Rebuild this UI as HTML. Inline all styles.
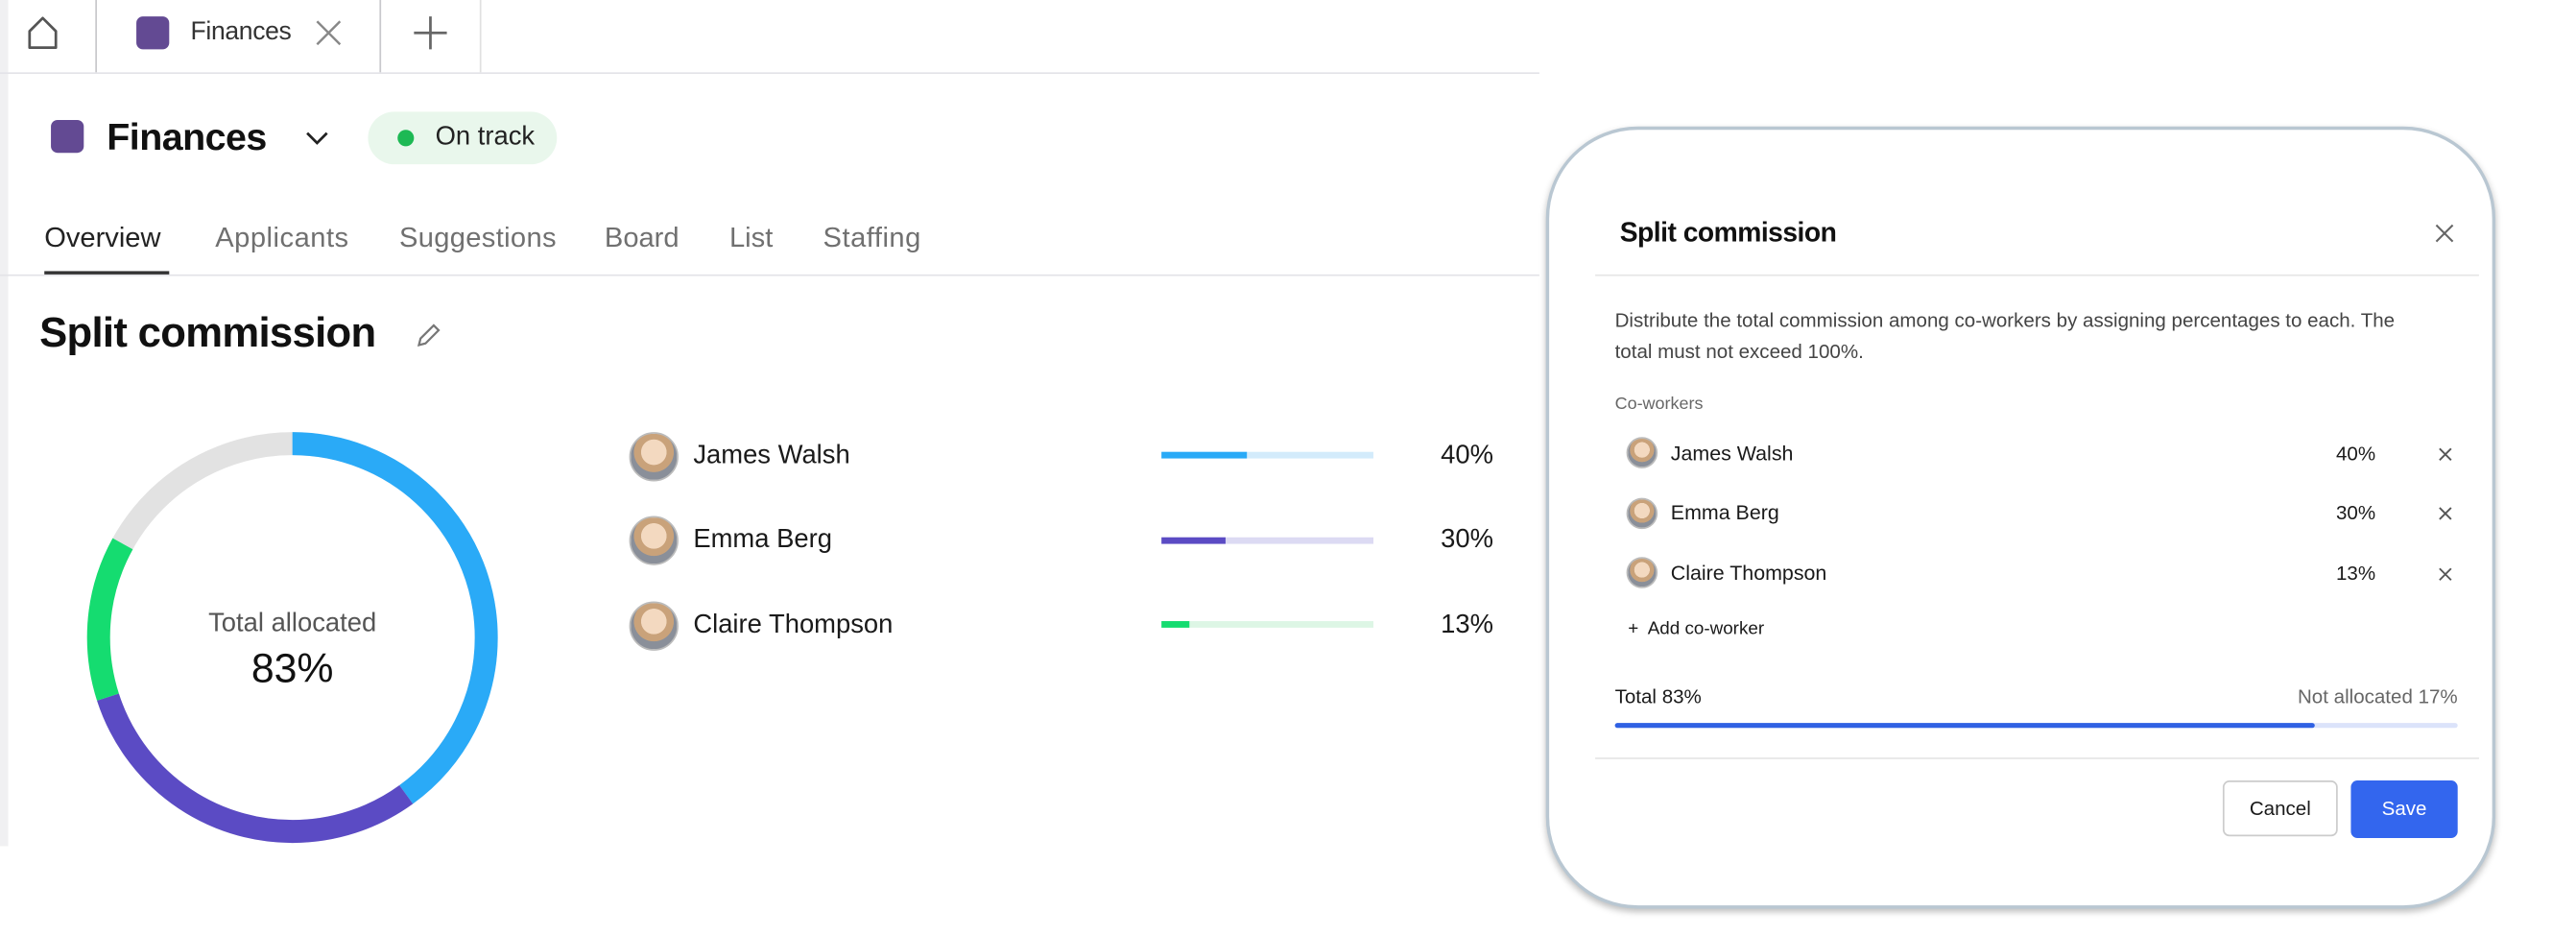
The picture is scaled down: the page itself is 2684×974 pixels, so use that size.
<!DOCTYPE html>
<html><head><meta charset="utf-8">
<style>
html,body{margin:0;padding:0;background:#fff;}
body{width:2684px;height:974px;overflow:hidden;position:relative;}
#s{position:absolute;left:0;top:0;width:1568px;height:569px;transform:scale(1.7117);transform-origin:0 0;font-family:"Liberation Sans","DejaVu Sans",sans-serif;color:#1a1a1a;}
.a{position:absolute;white-space:nowrap;}
.av{position:absolute;border-radius:50%;background:radial-gradient(circle at 50% 40%,#f3d9c0 0 35%,#c9a27a 36% 55%,#8a8f99 56%);border:1px solid #bbb;box-sizing:border-box;}
</style></head><body><div id="s">
<div class="a" style="left:0;top:0;width:5px;height:515px;background:#f0f0f2"></div>
<div class="a" style="left:0;top:44px;width:937px;height:1px;background:#e3e3e8"></div>
<div class="a" style="left:58px;top:0;width:1px;height:44px;background:#c8c8cc"></div>
<div class="a" style="left:231px;top:0;width:1px;height:44px;background:#c8c8cc"></div>
<div class="a" style="left:292px;top:0;width:1px;height:44px;background:#e0e0e0"></div>
<svg class="a" style="left:14px;top:8px" width="24" height="24" viewBox="0 0 24 24"><path d="M4 11 L12 3 L20 11 V21 H4 Z" fill="none" stroke="#555" stroke-width="1.6" stroke-linejoin="round"/></svg>
<div class="a" style="left:83px;top:10px;width:20px;height:20px;border-radius:4px;background:#634a93"></div>
<div class="a" style="left:116px;top:11px;font-size:15.5px;color:#333;letter-spacing:-0.2px">Finances</div>
<svg class="a" style="left:191px;top:11px" width="18" height="18"><path d="M2 2L16 16M16 2L2 16" stroke="#888" stroke-width="1.4"/></svg>
<svg class="a" style="left:251px;top:9px" width="22" height="22"><path d="M11 1V21M1 11H21" stroke="#666" stroke-width="1.6"/></svg>
<div class="a" style="left:31px;top:73px;width:20px;height:20px;border-radius:4px;background:#634a93"></div>
<div class="a" style="left:65px;top:70px;font-size:23px;font-weight:bold;color:#111;letter-spacing:-0.3px">Finances</div>
<svg class="a" style="left:185px;top:78px" width="16" height="12"><path d="M2 3L8 9L14 3" fill="none" stroke="#222" stroke-width="1.6"/></svg>
<div class="a" style="left:224px;top:68px;width:115px;height:32px;border-radius:16px;background:#e9f7ec"></div>
<div class="a" style="left:242px;top:79px;width:10px;height:10px;border-radius:50%;background:#1db954"></div>
<div class="a" style="left:265px;top:75px;font-size:16px;color:#222">On track</div>
<div class="a" style="left:27px;top:135px;font-size:17px;color:#222">Overview</div>
<div class="a" style="left:131px;top:135px;font-size:17px;color:#707070;letter-spacing:0.3px">Applicants</div>
<div class="a" style="left:243px;top:135px;font-size:17px;color:#707070;letter-spacing:0.2px">Suggestions</div>
<div class="a" style="left:368px;top:135px;font-size:17px;color:#707070">Board</div>
<div class="a" style="left:444px;top:135px;font-size:17px;color:#707070">List</div>
<div class="a" style="left:501px;top:135px;font-size:17px;color:#707070;letter-spacing:0.3px">Staffing</div>
<div class="a" style="left:0;top:167px;width:937px;height:1px;background:#e3e3e8"></div>
<div class="a" style="left:27px;top:165px;width:76px;height:2px;background:#333"></div>
<div class="a" style="left:24px;top:189px;font-size:25.5px;font-weight:bold;color:#111;letter-spacing:-0.4px">Split commission</div>
<svg class="a" style="left:252px;top:195px" width="18" height="18"><path d="M3 15L4 11L12 3L15 6L7 14Z" fill="none" stroke="#777" stroke-width="1.3"/></svg>
<svg class="a" style="left:48px;top:258px" width="260" height="260" viewBox="0 0 260 260">
<g transform="translate(130,130) rotate(-90)" fill="none" stroke-width="14">
<circle r="118" stroke="#e2e2e2"/>
<circle r="118" stroke="#2aaaf7" stroke-dasharray="296.6 1000" />
<circle r="118" stroke="#5b4bc4" stroke-dasharray="0 296.6 222.4 1000" />
<circle r="118" stroke="#15dc70" stroke-dasharray="0 519 96.4 1000" />
</g></svg>
<div class="a" style="left:78px;top:371px;width:200px;text-align:center;font-size:16px;color:#555">Total allocated</div>
<div class="a" style="left:78px;top:393px;width:200px;text-align:center;font-size:25px;color:#111">83%</div>
<div class="av" style="left:383px;top:263px;width:30px;height:30px"></div>
<div class="a" style="left:422px;top:269px;font-size:16px">James Walsh</div>
<div class="a" style="left:707px;top:275px;width:129px;height:4px;background:#d3ebfb"></div>
<div class="a" style="left:707px;top:275px;width:52px;height:4px;background:#2aaaf7"></div>
<div class="a" style="left:860px;top:269px;width:49px;text-align:right;font-size:16px">40%</div>
<div class="av" style="left:383px;top:314px;width:30px;height:30px"></div>
<div class="a" style="left:422px;top:320px;font-size:16px">Emma Berg</div>
<div class="a" style="left:707px;top:327px;width:129px;height:4px;background:#dcdaf3"></div>
<div class="a" style="left:707px;top:327px;width:39px;height:4px;background:#5b4bc4"></div>
<div class="a" style="left:860px;top:320px;width:49px;text-align:right;font-size:16px">30%</div>
<div class="av" style="left:383px;top:366px;width:30px;height:30px"></div>
<div class="a" style="left:422px;top:372px;font-size:16px">Claire Thompson</div>
<div class="a" style="left:707px;top:378px;width:129px;height:4px;background:#ddf6e5"></div>
<div class="a" style="left:707px;top:378px;width:17px;height:4px;background:#15dc70"></div>
<div class="a" style="left:860px;top:372px;width:49px;text-align:right;font-size:16px">13%</div>
<div class="a" style="left:941px;top:77px;width:574px;height:472px;border:2px solid #b9c7d2;border-radius:56px;background:#fff;box-shadow:0 2px 4px rgba(0,0,0,0.25)"></div>
<div class="a" style="left:986px;top:133px;font-size:16.5px;font-weight:bold;color:#111;letter-spacing:-0.3px">Split commission</div>
<svg class="a" style="left:1482px;top:136px" width="12" height="12"><path d="M1 1L11 11M11 1L1 11" stroke="#666" stroke-width="1.2"/></svg>
<div class="a" style="left:971px;top:167px;width:538px;height:1px;background:#e6e6e6"></div>
<div class="a" style="left:983px;top:186px;font-size:12px;line-height:19px;color:#444">Distribute the total commission among co-workers by assigning percentages to each. The<br>total must not exceed 100%.</div>
<div class="a" style="left:983px;top:240px;font-size:10.5px;color:#666">Co-workers</div>
<div class="av" style="left:990px;top:266px;width:19px;height:19px"></div>
<div class="a" style="left:1017px;top:269px;font-size:12.5px">James Walsh</div>
<div class="a" style="left:1400px;top:269px;width:46px;text-align:right;font-size:12px">40%</div>
<div class="av" style="left:990px;top:303px;width:19px;height:19px"></div>
<div class="a" style="left:1017px;top:305px;font-size:12.5px">Emma Berg</div>
<div class="a" style="left:1400px;top:305px;width:46px;text-align:right;font-size:12px">30%</div>
<div class="av" style="left:990px;top:339px;width:19px;height:19px"></div>
<div class="a" style="left:1017px;top:342px;font-size:12.5px">Claire Thompson</div>
<div class="a" style="left:1400px;top:342px;width:46px;text-align:right;font-size:12px">13%</div>
<svg class="a" style="left:1484px;top:272px" width="9" height="9"><path d="M1 1L8 8M8 1L1 8" stroke="#555" stroke-width="1.1"/></svg>
<svg class="a" style="left:1484px;top:308px" width="9" height="9"><path d="M1 1L8 8M8 1L1 8" stroke="#555" stroke-width="1.1"/></svg>
<svg class="a" style="left:1484px;top:345px" width="9" height="9"><path d="M1 1L8 8M8 1L1 8" stroke="#555" stroke-width="1.1"/></svg>
<div class="a" style="left:991px;top:377px;font-size:11px">+&nbsp; Add co-worker</div>
<div class="a" style="left:983px;top:417px;font-size:12px">Total 83%</div>
<div class="a" style="left:1300px;top:417px;width:196px;text-align:right;font-size:12px;color:#666">Not allocated 17%</div>
<div class="a" style="left:983px;top:440px;width:513px;height:3px;border-radius:2px;background:#dbe3fa"></div>
<div class="a" style="left:983px;top:440px;width:426px;height:3px;border-radius:2px;background:#3061e3"></div>
<div class="a" style="left:971px;top:461px;width:538px;height:1px;background:#e6e6e6"></div>
<div class="a" style="left:1353px;top:475px;width:70px;height:34px;border:1px solid #ccc;border-radius:4px;box-sizing:border-box;text-align:center;line-height:32px;font-size:12px">Cancel</div>
<div class="a" style="left:1431px;top:475px;width:65px;height:35px;border-radius:4px;background:#3366ee;color:#fff;text-align:center;line-height:35px;font-size:12px">Save</div>
</div></body></html>
